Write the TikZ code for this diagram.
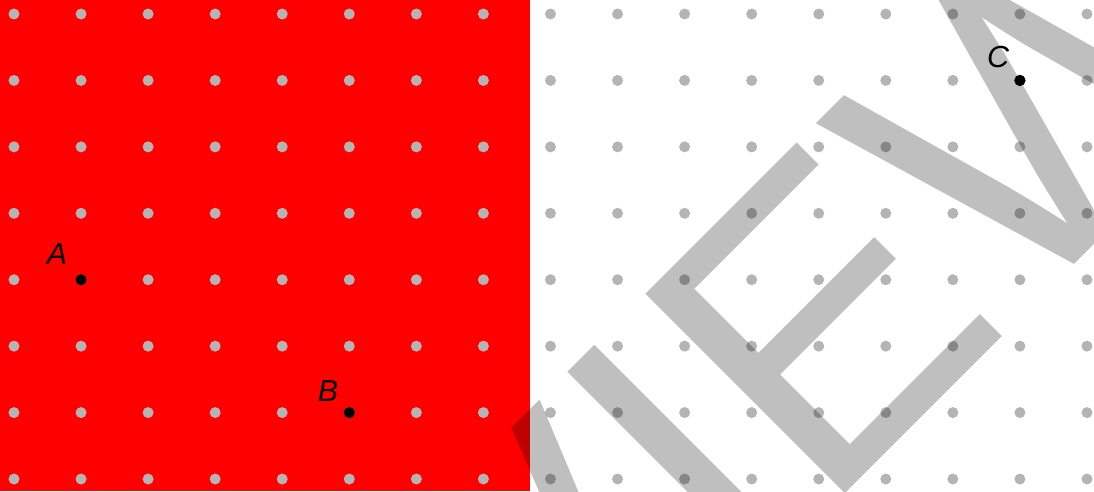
\documentclass[tikz,border=0pt]{standalone}
\usepackage{fontspec}
\setmainfont{Liberation Sans}
\newfontfamily\wmfont{Liberation Sans}
\usepackage{tikz}
\usetikzlibrary{positioning}
\definecolor{dotgray}{RGB}{180,180,180}

\begin{document}
\begin{tikzpicture}[x=0.03cm,y=-0.03cm,
  gridpt/.style={fill=dotgray},
  pt/.style={circle,fill=black,inner sep=0pt,minimum size=3.4mm},
  lbl/.style={inner sep=0pt,font=\fontsize{26}{28}\selectfont\itshape},
  wmark/.style={inner sep=0pt,text=black,text opacity=0.25,font=\wmfont\fontsize{350}{350}\selectfont}]
\useasboundingbox (0,0) rectangle (1094,491);
\fill[red] (0,0) rectangle (530,491); % edit here for the red part
\foreach \i in {0,...,16} % edit here for the dots
\foreach \j in {0,...,7}
\fill[gridpt] ({14+67.06*\i},{14+66.43*\j}) circle (1.65mm);

% points sit on the grid
\node[pt] (A) at ({14+67.06*1},{14+66.43*4}) {};
\node[pt] (B) at ({14+67.06*5},{14+66.43*6}) {};
\node[pt] (C) at ({14+67.06*15},{14+66.43*1}) {};

\begin{scope}
\clip (0,0) rectangle (1094,491);
\node[wmark,rotate=45,anchor=base west] (wm) at (547,792) {VIEW};
\end{scope}

\node[lbl] (Alab) at (57,254) {A};
\node[lbl] (Blab) at (328,391) {B};
\node[lbl] (Clab) at (998,57) {C};
\end{tikzpicture}
\end{document}
